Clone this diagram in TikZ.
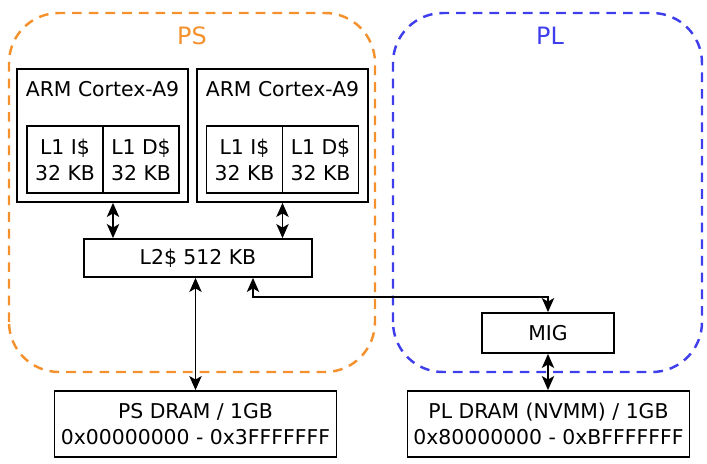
\documentclass[tikz,border=0pt]{standalone}
\usepackage{fontspec}
\setmainfont{DejaVu Sans}
\usetikzlibrary{arrows.meta,positioning,calc}
\tikzset{every picture/.style={line width=1pt}}
\definecolor{psorange}{RGB}{244,145,45}
\definecolor{plblue}{RGB}{62,62,236}

\begin{document}
\begin{tikzpicture}[>={Stealth[length=8pt,width=7pt,inset=2pt]},
    font=\fontsize{11.6}{14.8}\selectfont,
    region/.style={line width=1.4pt, dash pattern=on 5.5pt off 4pt, rounded corners=1.0cm},
    title/.style={font=\fontsize{13.6}{16}\selectfont},
    box/.style={draw, inner sep=0pt, align=center},
    core/.style={box, minimum width=3.42cm, minimum height=2.66cm},
    cache/.style={box, minimum width=1.52cm, minimum height=1.34cm},
    dram/.style={box, minimum width=5.64cm, minimum height=1.32cm}]
    \useasboundingbox (0, 0) rectangle (14.14, 9.26);

    % 区域
    \draw[region, psorange] (0.18, 1.82) rectangle (7.5, 9.0);
    \draw[region, plblue] (7.86, 1.82) rectangle (14.04, 9.0);
    \node[title, psorange] (pslabel) at (3.84, 8.54) {PS};
    \node[title, plblue] (pllabel) at (11.0, 8.54) {PL};

    % 处理器核
    \node[core, label={[anchor=center, yshift=-0.42cm]north:ARM Cortex-A9}] (arm1) at (2.05, 6.55) {};
    \node[core, label={[anchor=center, yshift=-0.42cm]north:ARM Cortex-A9}] (arm2) at (5.65, 6.55) {};
    \node[cache] (icache1) at (1.3, 6.07) {L1 I\$\\32 KB};
    \node[cache] (dcache1) at (2.82, 6.07) {L1 D\$\\32 KB};
    \node[cache] (icache2) at (4.89, 6.07) {L1 I\$\\32 KB};
    \node[cache] (dcache2) at (6.41, 6.07) {L1 D\$\\32 KB};

    % 二级缓存与存储
    \node[box, minimum width=4.56cm, minimum height=0.76cm] (l2) at (3.96, 4.1) {L2\$ 512 KB};
    \node[box, minimum width=2.64cm, minimum height=0.8cm] (mig) at (10.96, 2.6) {MIG};
    \node[dram] (psdram) at (3.91, 0.78) {PS DRAM / 1GB\\0x00000000 - 0x3FFFFFFF};
    \node[dram] (pldram) at (10.97, 0.78) {PL DRAM (NVMM) / 1GB\\0x80000000 - 0xBFFFFFFF};

    % 连线
    \draw[<->] ([xshift=0.21cm]arm1.south) -- ([xshift=0.21cm]arm1.south |- l2.north);
    \draw[<->] (arm2.south) -- (arm2.south |- l2.north);
    \draw[<->] (l2.south -| psdram.north) -- (psdram.north);
    \draw[<->] ([xshift=1.1cm]l2.south) -- ++(0, -0.38) -| (mig.north);
    \draw[<->] (mig.south) -- (mig.south |- pldram.north);
\end{tikzpicture}
\end{document}
